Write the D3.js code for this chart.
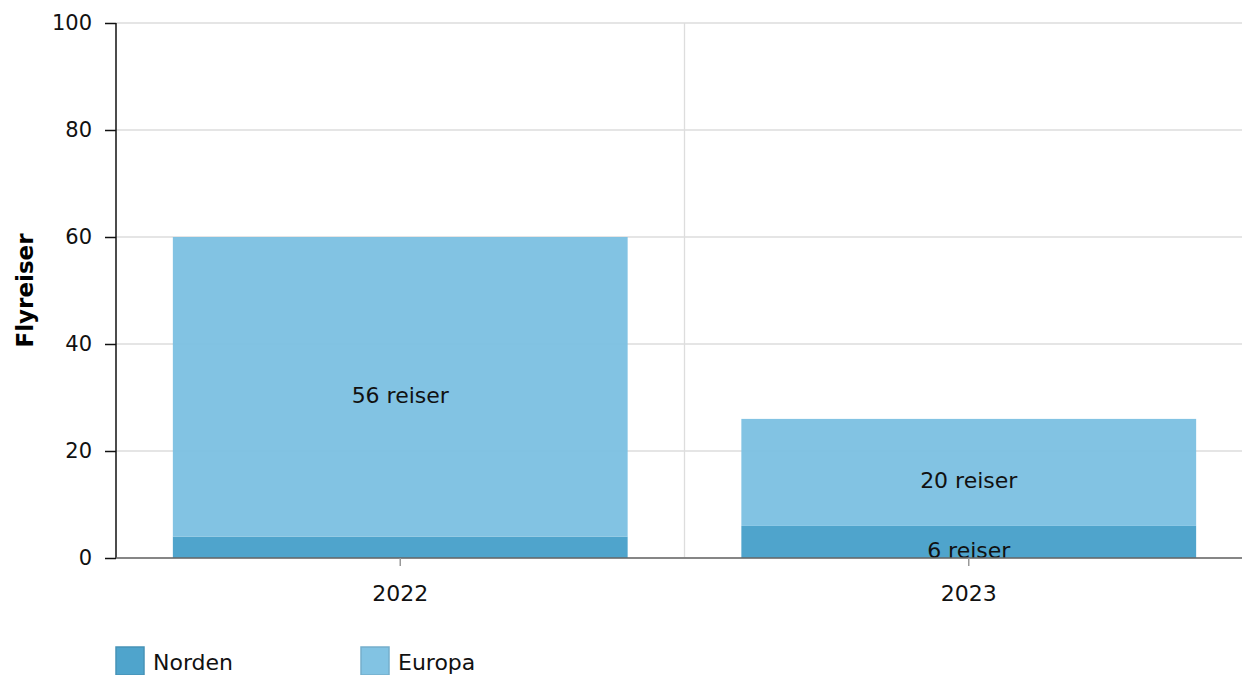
<!DOCTYPE html>
<html>
<head>
<meta charset="utf-8">
<script src="https://cdn.jsdelivr.net/npm/d3@7"></script>
<style>
body { margin: 0; background: #fff; }
svg { font-family: "DejaVu Sans", Verdana, sans-serif; }
</style>
</head>
<body>
<svg id="chart" width="1242" height="675"></svg>
<script>
var YEARS = ["2022", "2023"];
var SERIES = ["Norden", "Europa"];
var NORDEN = [4, 6];
var EUROPA = [56, 20];
var Y_TICKS = [0, 20, 40, 60, 80, 100];
var COLORS = ["#469fc9", "#7bc0e2"];
var LEGEND_COLORS = ["#4fa4cc", "#82c3e3"];

var svg = d3.select("#chart");
var margin = {top: 23, right: -11, bottom: 117, left: 116};
var width = 1242 - margin.left - margin.right;
var height = 675 - margin.top - margin.bottom;
var g = svg.append("g").attr("transform", "translate(" + margin.left + "," + margin.top + ")");

var x = d3.scaleBand().domain(YEARS).range([0, width]).paddingInner(0).paddingOuter(0);
var y = d3.scaleLinear().domain([0, 100]).range([height, 0]);

var rows = YEARS.map(function(yr, i){
    return {year: yr, Norden: NORDEN[i], Europa: EUROPA[i]};
});
var stacked = d3.stack().keys(SERIES)(rows);

/* grid */
g.append("g").selectAll("line").data(Y_TICKS).enter().append("line")
    .attr("x1", 0).attr("x2", 1242 - margin.left)
    .attr("y1", function(d){ return y(d); }).attr("y2", function(d){ return y(d); })
    .attr("stroke", "#dddddd").attr("stroke-width", 1.3);

g.append("line")
    .attr("x1", x("2023")).attr("x2", x("2023"))
    .attr("y1", 0).attr("y2", height)
    .attr("stroke", "#dddddd").attr("stroke-width", 1.3);

/* bars */
var barW = x.bandwidth() * 0.8;
stacked.forEach(function(layer, si){
    g.append("g").selectAll("rect").data(layer).enter().append("rect")
        .attr("x", function(d){ return x(d.data.year) + (x.bandwidth() - barW) / 2; })
        .attr("width", barW)
        .attr("y", function(d){ return y(d[1]); })
        .attr("height", function(d){ return y(d[0]) - y(d[1]); })
        .attr("fill", COLORS[si])
        .attr("fill-opacity", 0.95);
});

/* labels (small segments get none) */
stacked.forEach(function(layer){
    g.append("g").selectAll("text").data(layer.filter(function(d){ return (d[1] - d[0]) >= 5; })).enter()
        .append("text")
        .attr("x", function(d){ return x(d.data.year) + x.bandwidth() / 2; })
        .attr("y", function(d){ return (y(d[0]) + y(d[1])) / 2 + 16; })
        .attr("text-anchor", "middle")
        .attr("font-size", 22)
        .attr("fill", "#111")
        .text(function(d){ return (d[1] - d[0]) + " reiser"; });
});

/* axes */
var yAxis = g.append("g").call(d3.axisLeft(y).tickValues(Y_TICKS).tickSize(11).tickPadding(13));
yAxis.selectAll("text").attr("font-size", 21).attr("fill", "#111").attr("font-family", "DejaVu Sans");
yAxis.selectAll("line").attr("stroke", "#111").attr("stroke-width", 1.5);
yAxis.select(".domain").attr("stroke", "#111").attr("stroke-width", 1.5).attr("d", "M0," + height + "V0");

var xAxis = g.append("g").attr("transform", "translate(0," + height + ")")
    .call(d3.axisBottom(x).tickSize(8).tickPadding(19));
xAxis.selectAll("text").attr("font-size", 22).attr("fill", "#111").attr("font-family", "DejaVu Sans");
xAxis.selectAll("line").attr("stroke", "#999").attr("stroke-width", 1.5);
xAxis.select(".domain").attr("stroke", "#666").attr("stroke-width", 1.5)
    .attr("d", "M0,0H" + (1242 - margin.left));

svg.append("text")
    .attr("transform", "translate(33," + (margin.top + height / 2) + ") rotate(-90)")
    .attr("text-anchor", "middle")
    .attr("font-size", 23)
    .attr("font-weight", "bold")
    .attr("fill", "#000")
    .text("Flyreiser");

/* legend */
var legend = svg.append("g").selectAll("g").data(SERIES).enter().append("g")
    .attr("transform", function(d, i){ return "translate(" + (116 + i * 245) + ",647)"; });
legend.append("rect")
    .attr("width", 28).attr("height", 28)
    .attr("fill", function(d, i){ return LEGEND_COLORS[i]; })
    .attr("stroke", function(d, i){ return d3.color(LEGEND_COLORS[i]).darker(0.3); })
    .attr("stroke-width", 1.5);
legend.append("text")
    .attr("x", 37).attr("y", 23)
    .attr("font-size", 22)
    .attr("fill", "#111")
    .text(function(d){ return d; });
</script>
</body>
</html>
